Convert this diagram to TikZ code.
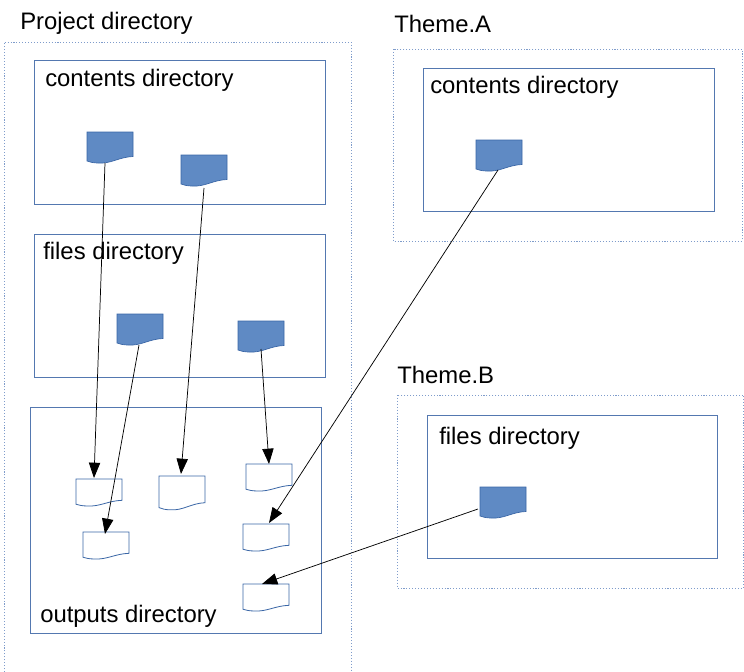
\documentclass[tikz,border=0pt]{standalone}
\usepackage{fontspec}
\setmainfont{Liberation Sans}
\usetikzlibrary{arrows.meta}
\definecolor{boxblue}{HTML}{5478B0}
\definecolor{dotblue}{HTML}{7F9CCB}
\definecolor{docfill}{HTML}{5F8AC4}
\definecolor{docline}{HTML}{3A66A6}
\tikzset{
  dirbox/.style={draw=boxblue,line width=0.6pt},
  dotbox/.style={draw=dotblue,line width=0.7pt,dash pattern=on 0.8pt off 1.4pt},
  lab/.style={anchor=base west,inner sep=0pt,font=\fontsize{17.9pt}{20pt}\selectfont,text=black},
  docanchor/.style={anchor=north west,inner sep=0pt,minimum width=34.5pt,outer sep=0pt},
  solidDoc/.style={fill=docfill,draw=docline,line width=0.5pt},
  hollowDoc/.style={fill=white,draw=docline,line width=0.6pt},
  link/.style={draw=black,line width=0.55pt,-{Triangle[length=11.5pt,width=8.5pt]}}
}
\newcommand{\docshape}[5]{%
  \node[docanchor,minimum height=#5*23.25pt] (#1) at (#2,#3) {};
  \begin{scope}[shift={(#1.north west)},yscale=#5]
    \path[#4] (0,0) -- (46,0) -- (46,24.5)
      .. controls (32,25) and (24,32) .. (11,31)
      .. controls (6,31) and (3,30) .. (0,29) -- cycle;
  \end{scope}
}
\begin{document}
\begin{tikzpicture}[x=0.75pt,y=-0.75pt]
\useasboundingbox (0,0) rectangle (744,672);
% containers
\draw[dotbox] (4,672) -- (4,42) -- (351,42) -- (351,672);
\draw[dotbox] (393,49) rectangle (742,241);
\draw[dotbox] (397,395) rectangle (743.5,588);
\draw[dirbox] (34,60.5) rectangle (325.5,204.5);
\draw[dirbox] (34,234.5) rectangle (325.5,377.5);
\draw[dirbox] (30,407.5) rectangle (321.5,633.5);
\draw[dirbox] (423,68.5) rectangle (714,211.5);
\draw[dirbox] (427,415.5) rectangle (717.5,558.5);
% labels
\node[lab] (t1) at (20,29) {Project directory};
\node[lab] (t2) at (45,86) {contents directory};
\node[lab] (t3) at (43,259) {files directory};
\node[lab] (t4) at (40,622) {outputs directory};
\node[lab] (t5) at (394,32) {Theme.A};
\node[lab] (t6) at (430,93) {contents directory};
\node[lab] (t7) at (397,383) {Theme.B};
\node[lab] (t8) at (439,444) {files directory};
% documents
\docshape{d1}{87}{132}{solidDoc}{1}
\docshape{d2}{181}{155}{solidDoc}{1}
\docshape{d3}{117}{314}{solidDoc}{1}
\docshape{d4}{238}{321}{solidDoc}{1}
\docshape{d5}{476}{140}{solidDoc}{1}
\docshape{d6}{480}{487}{solidDoc}{1}
\docshape{o1}{76}{479}{hollowDoc}{0.87}
\docshape{o2}{159}{476}{hollowDoc}{1.09}
\docshape{o3}{246}{464}{hollowDoc}{0.87}
\docshape{o4}{83}{532}{hollowDoc}{0.87}
\docshape{o5}{243}{524}{hollowDoc}{0.87}
\docshape{o6}{243}{584}{hollowDoc}{0.87}
% connectors
\draw[link] ([shift={(-5,0)}]d1.south) -- ([shift={(-5,-1)}]o1.north);
\draw[link] ([shift={(0,2)}]d2.south) -- ([shift={(-1,-2)}]o2.north);
\draw[link] ([shift={(-1,0)}]d3.south) -- ([shift={(-1,2)}]o4.north);
\draw[link] ([shift={(0,-3)}]d4.south) -- (o3.north);
\draw[link] ([shift={(-1,-1)}]d5.south) -- ([shift={(3,-1)}]o5.north);
\draw[link] ([shift={(-25,-9)}]d6.south) -- ([shift={(-4,0)}]o6.north);
\end{tikzpicture}
\end{document}
